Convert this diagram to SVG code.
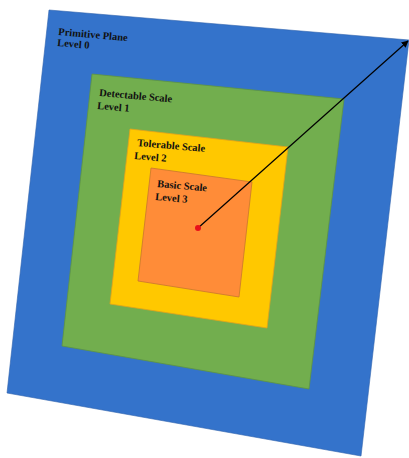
<svg xmlns="http://www.w3.org/2000/svg" width="409" height="458" viewBox="0 0 409 458">
<style>
.lbl{font-family:"Liberation Serif","Times New Roman",serif;font-weight:bold;font-size:10.5px;fill:#111}
</style>
<defs>
<marker id="ah" viewBox="0 0 10 10" refX="9" refY="5" markerWidth="7" markerHeight="7" orient="auto" markerUnits="userSpaceOnUse">
<path d="M0,0 L10,5 L0,10 z" fill="#000"/>
</marker>
</defs>
<rect width="409" height="458" fill="#fff"/>
<g id="level0">
<polygon points="49,10 409,40 361,456 7,393" fill="#3473CB" stroke="#2d62ad" stroke-width="0.6"/>
<text class="lbl" transform="translate(58,35) rotate(5)">Primitive Plane</text>
<text class="lbl" transform="translate(57,46) rotate(5)">Level 0</text>
</g>
<g id="level1">
<polygon points="92,74 344,99 309,389 62,346" fill="#72AE4E" stroke="#5e9440" stroke-width="0.8"/>
<text class="lbl" transform="translate(99,96) rotate(5)">Detectable Scale</text>
<text class="lbl" transform="translate(97,109) rotate(5)">Level 1</text>
</g>
<g id="level2">
<polygon points="130,129 288,147 267,328 110,304" fill="#FFC800" stroke="#e3a21a" stroke-width="0.8"/>
<text class="lbl" transform="translate(137,146) rotate(5)">Tolerable Scale</text>
<text class="lbl" transform="translate(134,159) rotate(5)">Level 2</text>
</g>
<g id="level3">
<polygon points="151,168 252,182 239,297 138,281" fill="#FF8C38" stroke="#c9762e" stroke-width="0.8"/>
<text class="lbl" transform="translate(157,187) rotate(5)">Basic Scale</text>
<text class="lbl" transform="translate(155,200) rotate(5)">Level 3</text>
</g>
<g id="connectors">
<line x1="198" y1="228" x2="408" y2="41" stroke="#000" stroke-width="1.2" marker-end="url(#ah)"/>
<circle cx="198" cy="228" r="3" fill="#e8101a"/>
</g>
</svg>
